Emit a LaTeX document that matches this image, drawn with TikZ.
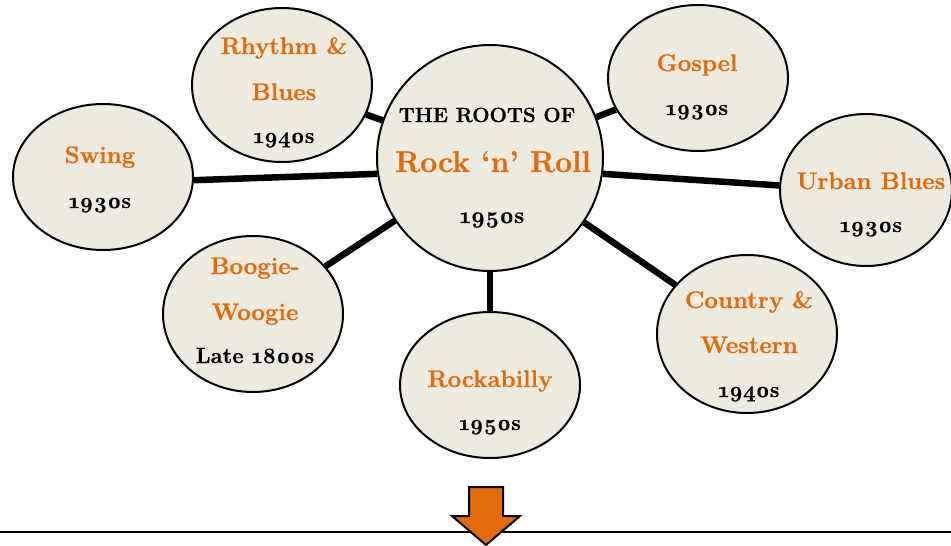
\documentclass[tikz,border=0pt]{standalone}
\usepackage{fontspec}
\setmainfont{Latin Modern Roman}[BoldFeatures={FakeBold=0.8}]
\newfontfamily\yrfont{Latin Modern Roman}[Numbers=OldStyle,BoldFeatures={FakeBold=0.8}]
\usetikzlibrary{shapes.geometric,backgrounds}
\definecolor{rorange}{HTML}{E36C0A}
\definecolor{rfill}{HTML}{EDEAE0}
\begin{document}
\begin{tikzpicture}[x=1pt,y=-1pt,
  bub/.style={ellipse,draw=black,line width=2pt,fill=rfill,inner sep=0pt},
  conn/.style={line width=6.5pt,black},
  otxt/.style={anchor=base,text=rorange,font=\fontsize{24}{28}\selectfont\bfseries,inner sep=0pt},
  ytxt/.style={anchor=base,text=black,font=\yrfont\fontsize{22}{26}\selectfont\bfseries,inner sep=0pt}]
\useasboundingbox (0,0) rectangle (951,546);
% bubbles
\node[bub,minimum width=226pt,minimum height=226pt] (c) at (490,158) {};
\node[bub,minimum width=180pt,minimum height=146pt] (sw) at (103,177) {};
\node[bub,minimum width=180pt,minimum height=154pt] (rb) at (282,85) {};
\node[bub,minimum width=180pt,minimum height=146pt] (go) at (698,78) {};
\node[bub,minimum width=172pt,minimum height=152pt] (ub) at (866,190) {};
\node[bub,minimum width=180pt,minimum height=156pt] (bw) at (253,314) {};
\node[bub,minimum width=180pt,minimum height=146pt] (ra) at (490,385) {};
\node[bub,minimum width=180pt,minimum height=158pt] (cw) at (747,334) {};
% connectors
\begin{pgfonlayer}{background}
\draw[conn] (c.188) -- (sw.-2);
\draw[conn] (c) -- (rb);
\draw[conn] (c) -- (go);
\draw[conn] (c.-8) -- (ub.177);
\draw[conn] (c) -- (bw);
\draw[conn] (c) -- (ra);
\draw[conn] (c) -- (cw);
\end{pgfonlayer}
% texts
\node[anchor=base,inner sep=0pt,font=\fontsize{20.5}{24}\selectfont\bfseries] (t1) at (487,122) {THE ROOTS OF};
\node[anchor=base,inner sep=0pt,text=rorange,font=\fontsize{30}{34}\selectfont\bfseries] (t2) at (493,172) {Rock `n' Roll};
\node[ytxt,font=\yrfont\fontsize{23}{26}\selectfont\bfseries] (t3) at (492,223) {1950s};
\node[otxt] (sw1) at (100,163) {Swing};
\node[ytxt] (sw2) at (100,208) {1930s};
\node[otxt] (rb1) at (284,54) {Rhythm \&};
\node[otxt] (rb2) at (284,100) {Blues};
\node[ytxt] (rb3) at (284,143) {1940s};
\node[otxt] (go1) at (697,71) {Gospel};
\node[ytxt] (go2) at (697,115) {1930s};
\node[otxt] (ub1) at (871,189) {Urban Blues};
\node[ytxt] (ub2) at (871,232) {1930s};
\node[otxt] (bw1) at (255,274) {Boogie-};
\node[otxt] (bw2) at (255,320) {Woogie};
\node[ytxt] (bw3) at (255,363) {Late 1800s};
\node[otxt] (ra1) at (490,387) {Rockabilly};
\node[ytxt] (ra2) at (490,430) {1950s};
\node[otxt] (cw1) at (749,308) {Country \&};
\node[otxt] (cw2) at (749,353) {Western};
\node[ytxt] (cw3) at (749,397) {1940s};
% bottom line and arrow
\coordinate (bl) at (0,532);
\coordinate (br) at (951,532);
\draw[line width=2pt] (bl) -- (br);
\draw[line width=2pt,fill=rorange,line join=miter]
  (469,487) -- (503,487) -- (503,516) -- (520,516) -- (486,545) -- (452,516) -- (469,516) -- cycle;
\end{tikzpicture}
\end{document}
